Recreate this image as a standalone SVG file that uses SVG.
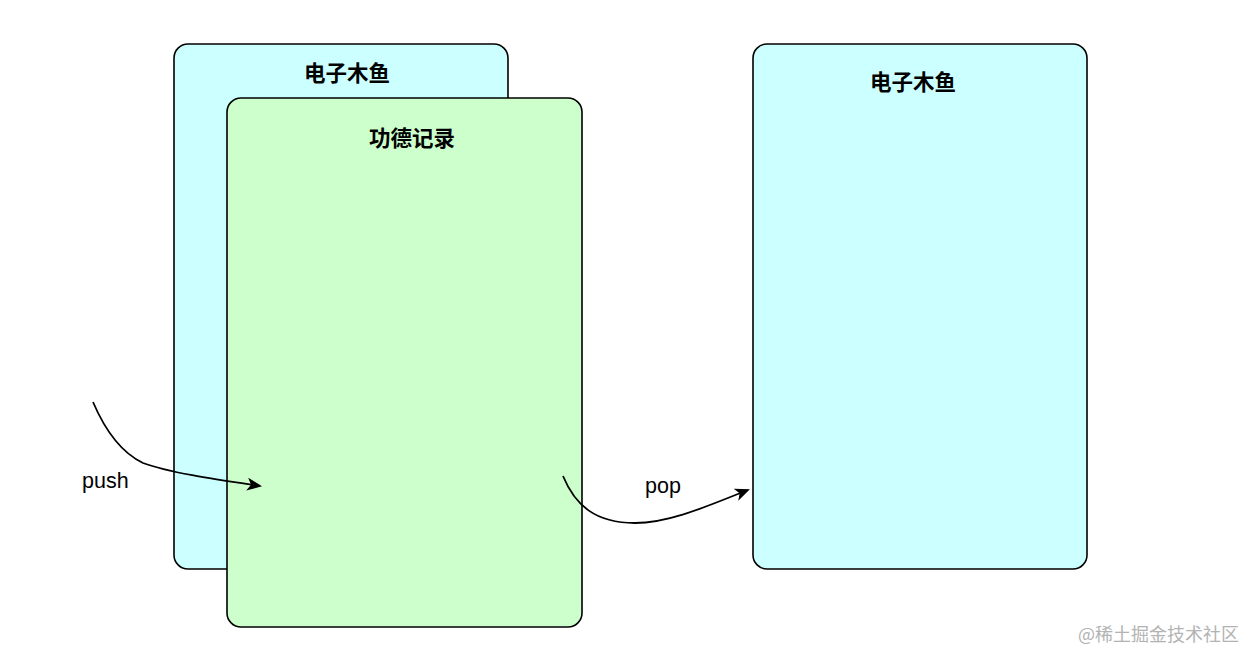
<svg xmlns="http://www.w3.org/2000/svg" width="1246" height="652" viewBox="0 0 1246 652">
<style>
.box{stroke:#000;stroke-width:1.6}
.cyan{fill:#ccffff}
.green{fill:#ccffcc}
.title{font-family:"Liberation Sans","Noto Sans CJK SC",sans-serif;font-size:21.5px;font-weight:bold;text-anchor:middle;fill:#000}
.lbl{font-family:"Liberation Sans",Arial,sans-serif;font-size:21.5px;fill:#000}
.conn{fill:none;stroke:#000;stroke-width:1.8}
.wm{font-family:"Noto Sans CJK SC",sans-serif;font-size:18px;fill:#b3b3b3}
</style>
<defs>
<marker id="arr" markerWidth="15" markerHeight="13" refX="13" refY="6.5" orient="auto" markerUnits="userSpaceOnUse">
<path d="M0,0 L15,6.5 L0,13 L4,6.5 Z" fill="#000"/>
</marker>
</defs>
<g id="stack-left">
<rect class="box cyan" x="174" y="44" width="334" height="525" rx="14"/>
<text class="title" x="347" y="81">电子木鱼</text>
</g>
<g id="record">
<rect class="box green" x="227" y="98" width="355" height="529" rx="14"/>
<text class="title" x="412" y="146">功德记录</text>
</g>
<g id="stack-right">
<rect class="box cyan" x="753" y="44" width="334" height="525" rx="14"/>
<text class="title" x="913" y="90">电子木鱼</text>
</g>
<g id="connectors">
<path class="conn" d="M93,402 C105,430 120,452 143,463 C170,473 220,480 260,486" marker-end="url(#arr)"/>
<path class="conn" d="M563,476 C575,505 595,523 635,523 C670,523 710,505 748,490" marker-end="url(#arr)"/>
<text class="lbl" x="82" y="488">push</text>
<text class="lbl" x="645" y="493">pop</text>
</g>
<text class="wm" x="1078" y="641">@稀土掘金技术社区</text>
</svg>
